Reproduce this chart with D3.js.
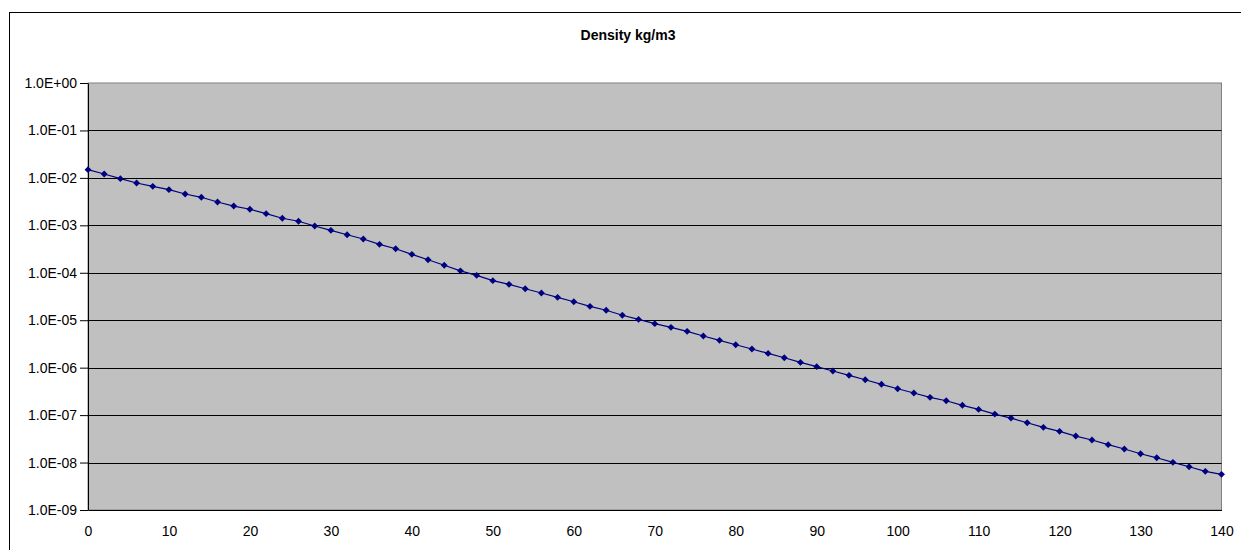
<!DOCTYPE html>
<html>
<head>
<meta charset="utf-8">
<script src="https://cdn.jsdelivr.net/npm/d3@7"></script>
<style>
  body { margin: 0; background: #fff; overflow: hidden; }
  svg { display: block; font-family: Arial, "Liberation Sans", sans-serif; }
</style>
</head>
<body>
<svg id="chart"></svg>
<script>
// altitude (x) and density kg/m3 (y)
const altitude = d3.range(0, 141, 2)
const density = [
  1.49e-2, 1.21e-2, 9.62e-3, 7.80e-3, 6.64e-3, 5.64e-3, 4.57e-3, 3.90e-3, 3.10e-3, 2.55e-3,
  2.18e-3, 1.76e-3, 1.41e-3, 1.22e-3, 9.68e-4, 7.85e-4, 6.34e-4, 5.15e-4, 3.98e-4, 3.21e-4,
  2.45e-4, 1.88e-4, 1.44e-4, 1.10e-4, 8.83e-5, 6.81e-5, 5.71e-5, 4.61e-5, 3.74e-5, 3.04e-5,
  2.45e-5, 1.96e-5, 1.62e-5, 1.27e-5, 1.04e-5, 8.45e-6, 7.08e-6, 5.83e-6, 4.65e-6, 3.77e-6,
  3.04e-6, 2.47e-6, 2.00e-6, 1.62e-6, 1.29e-6, 1.05e-6, 8.49e-7, 6.89e-7, 5.57e-7, 4.46e-7,
  3.60e-7, 2.92e-7, 2.37e-7, 2.01e-7, 1.61e-7, 1.32e-7, 1.05e-7, 8.67e-8, 6.90e-8, 5.52e-8,
  4.55e-8, 3.62e-8, 2.99e-8, 2.38e-8, 1.93e-8, 1.53e-8, 1.26e-8, 1.01e-8, 8.17e-9, 6.53e-9,
  5.65e-9
]
const xTicks = [0, 10, 20, 30, 40, 50, 60, 70, 80, 90, 100, 110, 120, 130, 140]
const yTicks = [1, 1e-1, 1e-2, 1e-3, 1e-4, 1e-5, 1e-6, 1e-7, 1e-8, 1e-9]
const title = 'Density kg/m3'

const data = altitude.map((a, i) => ({ x: a, y: density[i] }))

let w = 1241, h = 550
let pL = 88, pR = 1221.5, pT = 83, pB = 510

let svg = d3.select('#chart')
  .attr('width', w)
  .attr('height', h)

// chart frame (right and bottom edges fall outside the picture)
svg.append('rect')
  .attr('x', 9.5).attr('y', 12.5)
  .attr('width', 1260).attr('height', 560)
  .attr('fill', '#fff')
  .attr('stroke', '#000')

let scX = d3.scaleLinear().domain([0, 140]).range([pL, pR])
let scY = d3.scaleLog().domain([1e-9, 1]).range([pB, pT])

// plot area
svg.append('rect')
  .attr('x', pL).attr('y', pT)
  .attr('width', pR - pL).attr('height', pB - pT)
  .attr('fill', '#c0c0c0')
  .attr('stroke', '#808080')

const fmt = d => {
  let e = Math.round(Math.log10(d))
  return '1.0E' + (e < 0 ? '-' : '+') + String(Math.abs(e)).padStart(2, '0')
}

// gridlines
svg.append('g')
  .selectAll('line')
  .data(yTicks.slice(1, -1)).enter().append('line')
  .attr('x1', pL).attr('x2', pR)
  .attr('y1', d => Math.round(scY(d)) + 0.5)
  .attr('y2', d => Math.round(scY(d)) + 0.5)
  .attr('stroke', '#000')
  .attr('stroke-width', 1)

let yAx = d3.axisLeft(scY)
  .tickValues(yTicks)
  .tickFormat(fmt)
  .tickSize(8)
  .tickSizeOuter(0)
  .tickPadding(3)

svg.append('g')
  .attr('transform', `translate(${pL}, 0)`)
  .call(yAx)
  .call(g => g.selectAll('text').attr('font-size', 14).attr('fill', '#000').attr('font-family', 'Arial, "Liberation Sans", sans-serif'))
  .call(g => g.selectAll('line,path').attr('stroke', '#000'))

let xAx = d3.axisBottom(scX)
  .tickValues(xTicks)
  .tickFormat(d3.format('d'))
  .tickSize(0)
  .tickSizeOuter(0)
  .tickPadding(16)

svg.append('g')
  .attr('transform', `translate(0, ${pB})`)
  .call(xAx)
  .call(g => g.select('.domain').attr('stroke', '#000'))
  .call(g => g.selectAll('text').attr('font-size', 14).attr('fill', '#000').attr('font-family', 'Arial, "Liberation Sans", sans-serif'))

// series
let line = d3.line().x(d => scX(d.x)).y(d => scY(d.y))

svg.append('path')
  .datum(data)
  .attr('d', line)
  .attr('fill', 'none')
  .attr('stroke', '#000080')
  .attr('stroke-width', 1.2)

svg.append('g')
  .selectAll('path')
  .data(data).enter().append('path')
  .attr('d', d3.symbol().type(d3.symbolDiamond2).size(30))
  .attr('transform', d => `translate(${scX(d.x)}, ${scY(d.y)})`)
  .attr('fill', '#000080')

svg.append('text')
  .attr('x', 628)
  .attr('y', 40)
  .attr('text-anchor', 'middle')
  .attr('font-size', 14)
  .attr('font-weight', 'bold')
  .text(title)
</script>
</body>
</html>
